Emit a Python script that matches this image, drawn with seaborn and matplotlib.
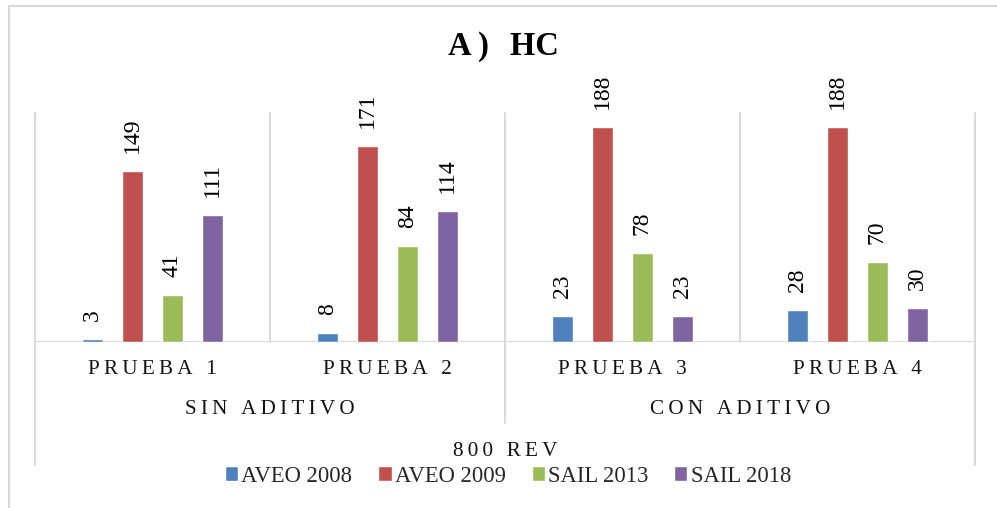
import matplotlib
matplotlib.use("Agg")
import matplotlib.pyplot as plt
import matplotlib.transforms as mtransforms
from matplotlib.lines import Line2D
import seaborn as sns
import pandas as pd

# Data
pruebas = ["PRUEBA 1", "PRUEBA 2", "PRUEBA 3", "PRUEBA 4"]
grupos = ["SIN ADITIVO", "CON ADITIVO"]
revoluciones = "800 REV"
series = ["AVEO 2008", "AVEO 2009", "SAIL 2013", "SAIL 2018"]
aveo_2008 = [3, 8, 23, 28]
aveo_2009 = [149, 171, 188, 188]
sail_2013 = [41, 84, 78, 70]
sail_2018 = [111, 114, 23, 30]
colores = ["#4F81BD", "#C0504D", "#9BBB59", "#8064A2"]

valores = [aveo_2008, aveo_2009, sail_2013, sail_2018]
df = pd.DataFrame(
    [(p, s, v[i]) for s, v in zip(series, valores) for i, p in enumerate(pruebas)],
    columns=["prueba", "serie", "valor"],
)

sns.set_theme(style="white")
plt.rcParams["font.family"] = ["Liberation Serif", "DejaVu Serif"]

GRID = "#D9D9D9"
TS = "\u2009"


def spaced(text):
    return TS.join(text)


W, H = 997, 508


def fy(py):
    return 1 - py / H


fig = plt.figure(figsize=(W / 100, H / 100), dpi=100)
left, right, top, bottom = 35, 975, 113, 342
ax = fig.add_axes([left / W, 1 - bottom / H, (right - left) / W, (bottom - top) / H])

sns.barplot(
    data=df, x="prueba", y="valor", hue="serie", order=pruebas, hue_order=series,
    palette=colores, width=0.68, gap=0.475, saturation=1, ax=ax, errorbar=None,
)

ax.set_xlim(-0.5, 3.5)
ax.set_ylim(0, 200)
for s in ax.spines.values():
    s.set_visible(False)
ax.set_xlabel("")
ax.set_ylabel("")
ax.set_yticks([])
ax.set_xticks([])

# Value labels above each bar
for cont in ax.containers:
    ax.bar_label(cont, rotation=90, padding=13, fontsize=17, color="black")

# Baseline and category separators
ax.axhline(0, color=GRID, lw=1.5, zorder=0)
trans = mtransforms.blended_transform_factory(ax.transData, ax.transAxes)
seps = {-0.5: -0.537, 0.5: 0.0, 1.5: -0.354, 2.5: 0.0, 3.5: -0.537}
for x, y0 in seps.items():
    ax.add_line(Line2D([x, x], [y0, 1], transform=trans, color=GRID, lw=1.5,
                       clip_on=False, zorder=0))

# Multi-level category labels
tx = mtransforms.blended_transform_factory(ax.transData, fig.transFigure)
for i, p in enumerate(pruebas):
    ax.text(i, fy(369), spaced(p), transform=tx, ha="center", va="center",
            fontsize=15.2, color="#111111", clip_on=False)
for j, g in enumerate(grupos):
    ax.text(2 * j + 0.5, fy(410), spaced(g), transform=tx, ha="center", va="center",
            fontsize=15.2, color="#111111", clip_on=False)
ax.text(1.5, fy(451), spaced(revoluciones), transform=tx, ha="center", va="center",
        fontsize=15.2, color="#111111", clip_on=False)

# Title
fig.text(503 / W, fy(46), "A" + TS + ")" + TS + " " + TS + "HC", ha="center", va="center",
         fontsize=23.5, fontweight="bold", color="black")

# Legend
sns.move_legend(
    ax, "center", bbox_to_anchor=(508 / W, fy(476)), bbox_transform=fig.transFigure,
    ncol=4, title=None, frameon=False, fontsize=16.3,
    handlelength=0.58, handleheight=0.58, handletextpad=0.14, columnspacing=1.15,
)

# Chart frame
fig.add_artist(Line2D([9 / W, 1], [fy(6), fy(6)], transform=fig.transFigure, color=GRID, lw=1.5))
fig.add_artist(Line2D([9 / W, 9 / W], [fy(6), 0], transform=fig.transFigure, color=GRID, lw=1.5))

fig.savefig("out.png", dpi=100)
